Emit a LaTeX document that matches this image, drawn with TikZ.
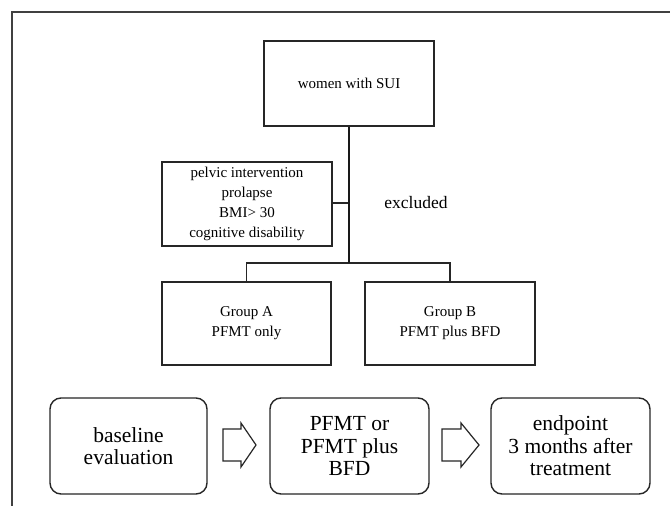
\documentclass[tikz,border=0pt]{standalone}
\usepackage{fontspec}
\setmainfont{Liberation Serif}
\begin{document}
\begin{tikzpicture}[x=1pt,y=-1pt,
  sqbox/.style={draw=black!85,line width=1.5pt,rectangle,align=center,inner sep=0pt,
     font=\fontsize{15}{20}\selectfont},
  rbox/.style={draw=black!85,line width=1.4pt,rectangle,rounded corners=11pt,align=center,inner sep=0pt,
     minimum width=158pt,minimum height=96pt,font=\fontsize{21.5}{22.5}\selectfont},
  conn/.style={draw=black!85,line width=1.3pt},
  mainconn/.style={draw=black!90,line width=2pt},
  blockarrow/.style={draw=black!85,line width=1.2pt,line join=miter}]
\useasboundingbox (0,0) rectangle (670,506);
\fill[white] (0,0) rectangle (670,506);
% frame
\draw[black!75,line width=1.3pt] (12,506) -- (12,12) -- (670,12);
% nodes
\node[sqbox,minimum width=170pt,minimum height=85pt] (women) at (349,83.5) {women with SUI};
\node[sqbox,minimum width=170pt,minimum height=84pt] (excl) at (247,204)
  {pelvic intervention\\prolapse\\BMI> 30\\cognitive disability};
\node[font=\fontsize{17.5}{20}\selectfont,inner sep=0pt] (exlab) at (416,203) {excluded};
\node[sqbox,minimum width=169pt,minimum height=83pt] (ga) at (246.5,323.5) {Group A\\PFMT only};
\node[sqbox,minimum width=170pt,minimum height=83pt] (gb) at (450,323.5) {Group B\\PFMT plus BFD};
\node[rbox,minimum width=157pt] (base) at (128.5,446) {baseline\\evaluation};
\node[rbox,minimum width=159pt] (treat) at (349.5,446) {PFMT or\\PFMT plus\\BFD};
\node[rbox,minimum width=159pt] (endp) at (570.5,446) {endpoint\\3 months after\\treatment};
% connectors
\coordinate (split) at (women.south |- 0,263);
\coordinate (jx) at (women.south |- 0,203);
\draw[conn] (excl.east |- jx) -- (jx);
\draw[conn] (ga.north) -- (ga.north |- split) -- (gb.north |- split) -- (gb.north);
\draw[mainconn] (women.south) -- (split);
% block arrows
\coordinate (a1) at (223,445);
\coordinate (a2) at (442,445);
\draw[blockarrow] (a1) ++(0,-16) -- ++(18,0) -- ++(0,-6) -- ++(15,22) -- ++(-15,22) -- ++(0,-6) -- ++(-18,0) -- cycle;
\draw[blockarrow] (a2) ++(0,-16) -- ++(19,0) -- ++(0,-6) -- ++(18,22) -- ++(-18,22) -- ++(0,-6) -- ++(-19,0) -- cycle;
\end{tikzpicture}
\end{document}
